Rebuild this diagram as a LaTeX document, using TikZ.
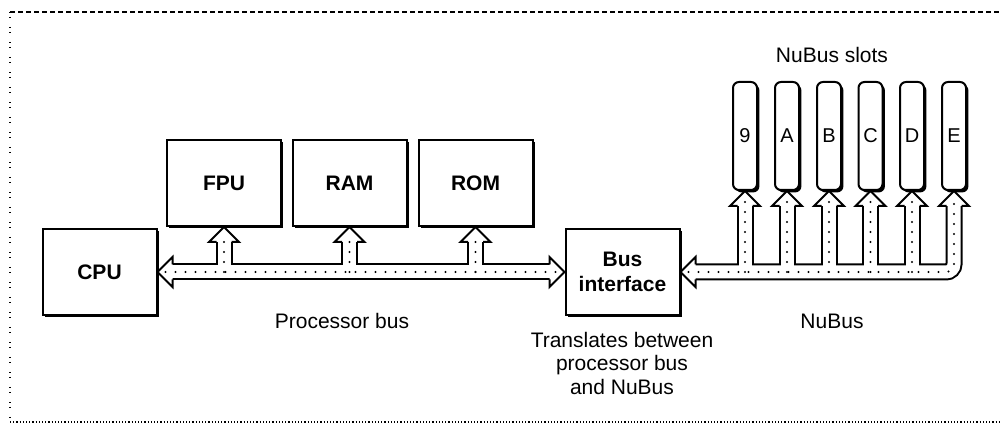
\documentclass[tikz,border=0pt]{standalone}
\usepackage{fontspec}
\setmainfont{Liberation Sans}
\usetikzlibrary{calc,shadows}

\begin{document}
\begin{tikzpicture}[x=0.5pt,y=-0.5pt,
		busout/.style={draw=black,line width=8.5pt},
		busin/.style={draw=white,line width=6.5pt},
		busdots/.style={draw=black,line width=1.1pt,line cap=round,dash pattern=on 0pt off 5pt},
		boxshadow/.style={drop shadow={shadow xshift=1.2pt,shadow yshift=-1.2pt,fill=black,opacity=1}},
		bushead/.pic={
			\fill[white] (-15,15) -- (0,0) -- (15,15) -- cycle;
			\draw[line width=1pt] (-7.5,15) -- (-15,15) -- (0,0) -- (15,15) -- (7.5,15);
		}]
		\useasboundingbox (0,0) rectangle (1002,426);
		\draw[line width=0.8pt,dash pattern=on 2.5pt off 1.5pt] (10,12) -- (1002,12);
		\draw[line width=0.8pt,dash pattern=on 0.5pt off 2pt on 0.5pt off 4.5pt] (10,12) -- (10,422);
		\draw[line width=0.8pt,dash pattern=on 0.6pt off 1pt] (10,422) -- (1002,422);
		\begin{scope}[every node/.style={draw,fill=white,line width=1pt,boxshadow,
				minimum width=57pt,minimum height=43pt,align=center,
				font=\fontsize{10.5}{12.5}\selectfont\bfseries}]
			\node (cpu) at (99.5,272) {CPU};
			\node (fpu) at (224,183) {FPU};
			\node (ram) at (349.5,183) {RAM};
			\node (rom) at (475.5,183) {ROM};
			\node (bif) at (622.5,272) {Bus\\interface};
		\end{scope}
		\begin{scope}[every node/.style={draw,fill=white,line width=1pt,rounded corners=3pt,boxshadow,
				minimum width=12pt,minimum height=54pt,inner sep=0pt,
				font=\fontsize{10}{12}\selectfont}]
			\node (s9) at (745,136) {9};
			\node (sA) at (787,136) {A};
			\node (sB) at (829,136) {B};
			\node (sC) at (870.5,136) {C};
			\node (sD) at (912,136) {D};
			\node (sE) at (954,136) {E};
		\end{scope}
		\begin{scope}[every node/.style={align=center,font=\fontsize{10.5}{11.75}\selectfont}]
			\node (slotsname) at (832,55) {NuBus slots};
			\node (pbusname) at (342,321) {Processor bus};
			\node (nbusname) at (832,321) {NuBus};
			\node (bifnote) at (622,363) {Translates between\\processor bus\\and NuBus};
		\end{scope}
		\begin{scope}[every edge/.style={busout}]
			\path (cpu.east) edge[shorten <=7pt,shorten >=7pt] (bif.west);
			\path (fpu.south |- cpu.east) edge[shorten >=7pt] (fpu.south);
			\path (ram.south |- cpu.east) edge[shorten >=7pt] (ram.south);
			\path (rom.south |- cpu.east) edge[shorten >=7pt] (rom.south);
			\path (s9.south |- bif.east) edge[shorten >=7pt] (s9.south);
			\path (sA.south |- bif.east) edge[shorten >=7pt] (sA.south);
			\path (sB.south |- bif.east) edge[shorten >=7pt] (sB.south);
			\path (sC.south |- bif.east) edge[shorten >=7pt] (sC.south);
			\path (sD.south |- bif.east) edge[shorten >=7pt] (sD.south);
			\draw[busout,rounded corners=4pt] ($(bif.east)+(14,0)$) -- (sE.south |- bif.east) -- ($(sE.south)+(0,14)$);
		\end{scope}
		\begin{scope}[every edge/.style={busin}]
			\path (cpu.east) edge[shorten <=7pt,shorten >=7pt] (bif.west);
			\path (fpu.south |- cpu.east) edge[shorten >=7pt] (fpu.south);
			\path (ram.south |- cpu.east) edge[shorten >=7pt] (ram.south);
			\path (rom.south |- cpu.east) edge[shorten >=7pt] (rom.south);
			\path (s9.south |- bif.east) edge[shorten >=7pt] (s9.south);
			\path (sA.south |- bif.east) edge[shorten >=7pt] (sA.south);
			\path (sB.south |- bif.east) edge[shorten >=7pt] (sB.south);
			\path (sC.south |- bif.east) edge[shorten >=7pt] (sC.south);
			\path (sD.south |- bif.east) edge[shorten >=7pt] (sD.south);
			\draw[busin,rounded corners=4pt] ($(bif.east)+(14,0)$) -- (sE.south |- bif.east) -- ($(sE.south)+(0,14)$);
		\end{scope}
		\pic[rotate=90] at (cpu.east) {bushead};
		\pic[rotate=-90] at (bif.west) {bushead};
		\pic[rotate=90] at (bif.east) {bushead};
		\pic at (fpu.south) {bushead};
		\pic at (ram.south) {bushead};
		\pic at (rom.south) {bushead};
		\pic at (s9.south) {bushead};
		\pic at (sA.south) {bushead};
		\pic at (sB.south) {bushead};
		\pic at (sC.south) {bushead};
		\pic at (sD.south) {bushead};
		\pic at (sE.south) {bushead};
		\begin{scope}[every edge/.style={busdots}]
			\path ($(cpu.east)+(8,0)$) edge ($(bif.west)-(8,0)$);
			\path (fpu.south |- cpu.east) edge ($(fpu.south)+(0,8)$);
			\path (ram.south |- cpu.east) edge ($(ram.south)+(0,8)$);
			\path (rom.south |- cpu.east) edge ($(rom.south)+(0,8)$);
			\path (s9.south |- bif.east) edge ($(s9.south)+(0,8)$);
			\path (sA.south |- bif.east) edge ($(sA.south)+(0,8)$);
			\path (sB.south |- bif.east) edge ($(sB.south)+(0,8)$);
			\path (sC.south |- bif.east) edge ($(sC.south)+(0,8)$);
			\path (sD.south |- bif.east) edge ($(sD.south)+(0,8)$);
			\draw[busdots,rounded corners=4pt] ($(bif.east)+(8,0)$) -- (sE.south |- bif.east) -- ($(sE.south)+(0,8)$);
		\end{scope}
	\end{tikzpicture}
\end{document}
